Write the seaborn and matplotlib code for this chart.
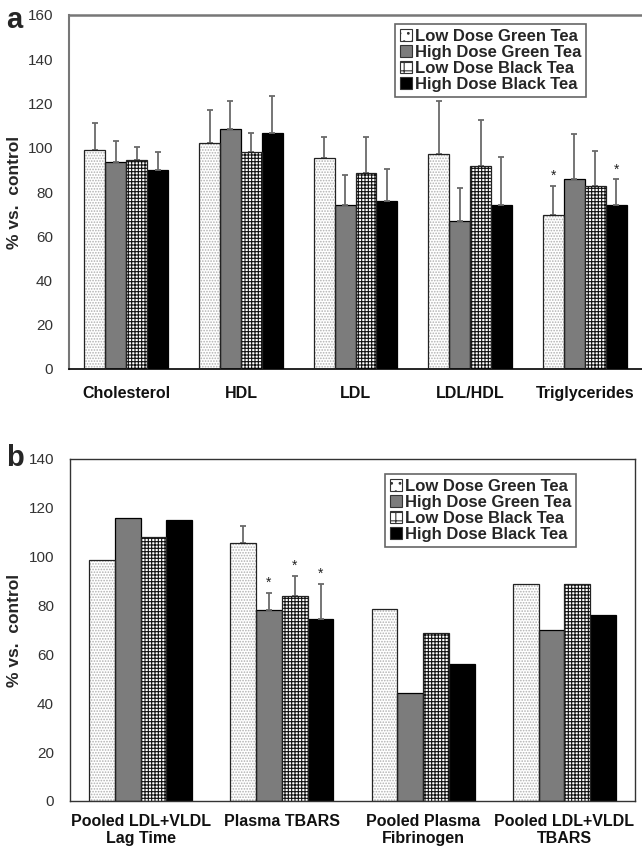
import numpy as np
import pandas as pd
import matplotlib
matplotlib.use("Agg")
import matplotlib.pyplot as plt
import seaborn as sns
from matplotlib.patches import Rectangle, Patch

treatments = ["Low Dose Green Tea", "High Dose Green Tea",
              "Low Dose Black Tea", "High Dose Black Tea"]

# panel a: plasma lipids, % vs. control
lipids = ["Cholesterol", "HDL", "LDL", "LDL/HDL", "Triglycerides"]
lipid_ldgt = [99.1, 102.1, 95.2, 97.1, 69.5]
lipid_hdgt = [93.7, 108.4, 74.1, 66.7, 85.7]
lipid_ldbt = [94.6, 98.0, 88.8, 91.9, 82.7]
lipid_hdbt = [90.0, 106.5, 76.0, 74.1, 73.9]
lipid_err_ldgt = [12.1, 14.8, 9.8, 24.0, 13.3]
lipid_err_hdgt = [9.3, 12.7, 13.4, 15.0, 20.5]
lipid_err_ldbt = [5.7, 8.5, 16.2, 20.6, 15.8]
lipid_err_hdbt = [8.3, 16.7, 14.3, 21.7, 11.9]
lipid_sig_ldgt = [0, 0, 0, 0, 1]
lipid_sig_hdgt = [0, 0, 0, 0, 0]
lipid_sig_ldbt = [0, 0, 0, 0, 0]
lipid_sig_hdbt = [0, 0, 0, 0, 1]

# panel b: oxidation / fibrinogen, % vs. control
oxid = ["Pooled LDL+VLDL\nLag Time", "Plasma TBARS",
        "Pooled Plasma\nFibrinogen", "Pooled LDL+VLDL\nTBARS"]
oxid_ldgt = [98.8, 105.6, 78.7, 88.9]
oxid_hdgt = [116.0, 78.3, 44.3, 70.1]
oxid_ldbt = [107.9, 83.9, 68.9, 88.9]
oxid_hdbt = [115.0, 74.3, 56.1, 76.0]
oxid_err_ldgt = [np.nan, 6.8, np.nan, np.nan]
oxid_err_hdgt = [np.nan, 6.8, np.nan, np.nan]
oxid_err_ldbt = [np.nan, 8.4, np.nan, np.nan]
oxid_err_hdbt = [np.nan, 14.6, np.nan, np.nan]
oxid_sig_ldgt = [0, 0, 0, 0]
oxid_sig_hdgt = [0, 1, 0, 0]
oxid_sig_ldbt = [0, 1, 0, 0]
oxid_sig_hdbt = [0, 1, 0, 0]

# fill colour, hatch, hatch colour per treatment
styles = {
    "Low Dose Green Tea": ("white", "......", "#b0b0b0"),
    "High Dose Green Tea": ("#7c7c7c", None, "#7c7c7c"),
    "Low Dose Black Tea": ("white", "+++++", "#111111"),
    "High Dose Black Tea": ("black", None, "black"),
}

plt.rcParams["font.family"] = ["Liberation Sans", "DejaVu Sans"]
plt.rcParams["hatch.linewidth"] = 0.8


def long_table(cats, vals, errs, sigs):
    rows = []
    for t, v, e, s in zip(treatments, vals, errs, sigs):
        for c, vv, ee, ss in zip(cats, v, e, s):
            rows.append({"measure": c, "treatment": t, "value": vv, "err": ee, "sig": ss})
    return pd.DataFrame(rows)


def draw_panel(ax, df, cats, ymax, ystep):
    palette = {t: styles[t][0] for t in treatments}
    sns.barplot(data=df, x="measure", y="value", hue="treatment", order=cats,
                hue_order=treatments, palette=palette, width=0.73, saturation=1,
                errorbar=None, edgecolor="black", linewidth=0.9, legend=False, ax=ax)
    n = len(cats)
    bars = [p for p in ax.patches if isinstance(p, Rectangle)][:n * len(treatments)]
    for h, t in enumerate(treatments):
        fill, hatch, hcol = styles[t]
        sub = df[df["treatment"] == t].set_index("measure").loc[cats]
        for i in range(n):
            p = bars[h * n + i]
            if hatch:
                p.set_hatch(hatch)
                p.set_edgecolor(hcol)
                p.set_linewidth(0)
                ax.add_patch(Rectangle(p.get_xy(), p.get_width(), p.get_height(),
                                       fill=False, edgecolor="#222222", linewidth=0.9, zorder=3))
            xc = p.get_x() + p.get_width() / 2
            e = sub["err"].iloc[i]
            top = sub["value"].iloc[i]
            if not np.isnan(e):
                ax.errorbar(xc, top, yerr=[[0], [e]], fmt="none", ecolor="#6a6a6a",
                            elinewidth=1.3, capsize=2.5, capthick=1.3, zorder=1)
                top += e
            if sub["sig"].iloc[i]:
                ax.text(xc, top + 1.2, "*", ha="center", va="bottom", fontsize=10,
                        color="#222222")
    ax.set_ylim(0, ymax)
    ax.set_xlim(-0.5, n - 0.5)
    ax.set_yticks(np.arange(0, ymax + 1, ystep))
    ax.set_xlabel("")
    ax.set_ylabel("% vs.  control", fontsize=12.5, fontweight="bold")
    ax.tick_params(axis="y", labelsize=11, labelcolor="#333333", color="#777777",
                   length=2.5, width=1, pad=9)
    ax.tick_params(axis="x", length=0, pad=12)
    for lab in ax.get_xticklabels():
        lab.set_fontweight("bold")
        lab.set_fontsize(11.5)
        lab.set_color("#111111")


def tea_legend(ax, fig, x, y):
    handles = []
    for t in treatments:
        fill, hatch, hcol = styles[t]
        if hatch:
            handles.append(Patch(facecolor=fill, hatch=hatch[:2], edgecolor="#333333", linewidth=0.8))
        else:
            handles.append(Patch(facecolor=fill, edgecolor="#333333", linewidth=0.8))
    leg = ax.legend(handles, treatments, loc="upper left", bbox_to_anchor=(x, y),
                    bbox_transform=fig.transFigure, fancybox=False, framealpha=1,
                    edgecolor="#666666", handlelength=0.7, handleheight=0.7,
                    handletextpad=0.2, labelspacing=0.05, borderpad=0.3,
                    borderaxespad=0, prop={"size": 12, "weight": "bold"})
    leg.get_frame().set_linewidth(1.2)


fig = plt.figure(figsize=(6.42, 8.48), dpi=100)
sns.set_style("white")
plt.rcParams["font.family"] = ["Liberation Sans", "DejaVu Sans"]

# panel a
ax1 = fig.add_axes([69 / 642, 1 - 369 / 848, 573 / 642, 354 / 848])
df_a = long_table(lipids,
                  [lipid_ldgt, lipid_hdgt, lipid_ldbt, lipid_hdbt],
                  [lipid_err_ldgt, lipid_err_hdgt, lipid_err_ldbt, lipid_err_hdbt],
                  [lipid_sig_ldgt, lipid_sig_hdgt, lipid_sig_ldbt, lipid_sig_hdbt])
draw_panel(ax1, df_a, lipids, 160, 20)
ax1.yaxis.set_label_coords((22 - 69) / 573, 0.5)
ax1.spines["right"].set_visible(False)
ax1.spines["top"].set_color("#777777")
ax1.spines["top"].set_linewidth(1.8)
ax1.spines["left"].set_color("#777777")
ax1.spines["left"].set_linewidth(1.5)
ax1.spines["bottom"].set_color("black")
ax1.spines["bottom"].set_linewidth(1.2)
tea_legend(ax1, fig, 395 / 642, 1 - 24 / 848)
fig.text(6 / 642, 1 - 6 / 848, "a", fontsize=21, fontweight="bold", va="top")

# panel b
ax2 = fig.add_axes([70 / 642, 1 - 801 / 848, 565 / 642, 342 / 848])
df_b = long_table(oxid,
                  [oxid_ldgt, oxid_hdgt, oxid_ldbt, oxid_hdbt],
                  [oxid_err_ldgt, oxid_err_hdgt, oxid_err_ldbt, oxid_err_hdbt],
                  [oxid_sig_ldgt, oxid_sig_hdgt, oxid_sig_ldbt, oxid_sig_hdbt])
draw_panel(ax2, df_b, oxid, 140, 20)
ax2.yaxis.set_label_coords((22 - 70) / 565, 0.5)
for s in ax2.spines.values():
    s.set_color("#333333")
    s.set_linewidth(1.0)
ax2.tick_params(axis="x", pad=9)
tea_legend(ax2, fig, 385 / 642, 1 - 474 / 848)
fig.text(6 / 642, 1 - 444 / 848, "b", fontsize=21, fontweight="bold", va="top")

fig.savefig("out.png", dpi=100)
